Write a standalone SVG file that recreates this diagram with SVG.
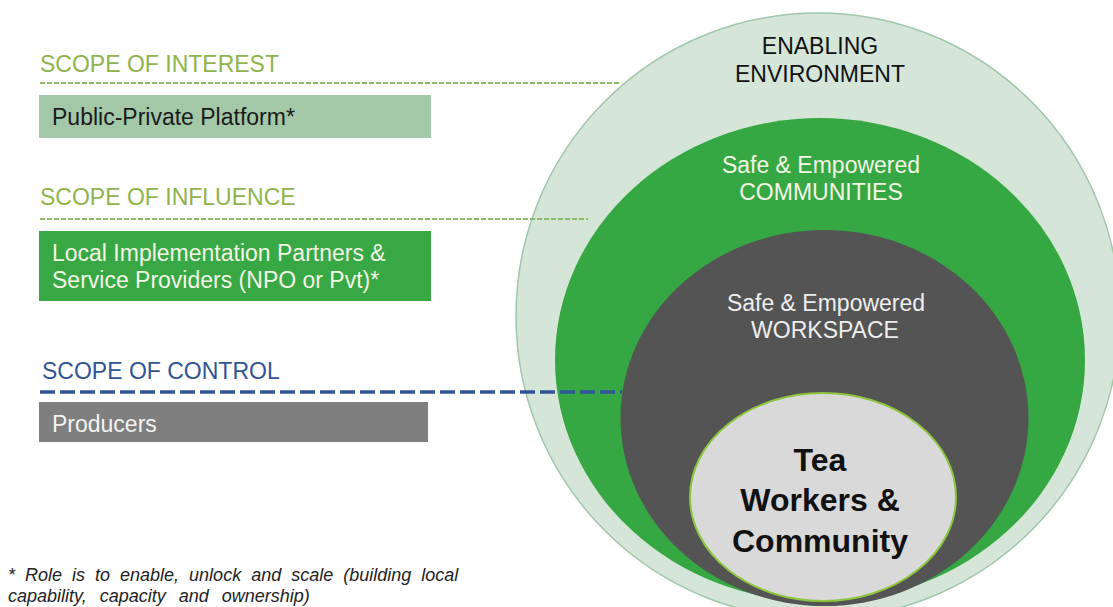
<svg xmlns="http://www.w3.org/2000/svg" width="1113" height="607" viewBox="0 0 1113 607">
<style>
text{font-family:"Liberation Sans",Arial,sans-serif;}
.hdr{font-size:23px;}
.green-hdr{fill:#8fb34c;}
.blue-hdr{fill:#2f5597;}
.box-t{font-size:23px;}
.ring{font-size:23px;text-anchor:middle;}
.core{font-size:32px;font-weight:bold;text-anchor:middle;fill:#111;}
.note{font-size:18px;font-style:italic;fill:#222;}
.gdash{stroke:#8dbd63;stroke-width:2;stroke-dasharray:5 2;fill:none;}
.bdash{stroke:#2f5597;stroke-width:3.5;stroke-dasharray:15 5;fill:none;}
</style>
<rect width="1113" height="607" fill="#ffffff"/>
<g id="enabling-environment">
<ellipse cx="818" cy="316" rx="302" ry="303" fill="#d5e6d9" stroke="#9fc7a9" stroke-width="1.5"/>
<text class="ring" x="820" y="54" fill="#111">ENABLING</text>
<text class="ring" x="820" y="82" fill="#111">ENVIRONMENT</text>
</g>
<g id="communities">
<ellipse cx="820" cy="360" rx="265" ry="242" fill="#36a843"/>
<text class="ring" x="821" y="173" fill="#f4f6e6">Safe &amp; Empowered</text>
<text class="ring" x="821" y="200" fill="#f4f6e6">COMMUNITIES</text>
</g>
<g id="workspace">
<ellipse cx="824.5" cy="418" rx="204" ry="188" fill="#545454"/>
<text class="ring" x="826" y="311" fill="#eeeeee">Safe &amp; Empowered</text>
<text class="ring" x="825" y="338" fill="#eeeeee">WORKSPACE</text>
</g>
<g id="tea-workers">
<ellipse cx="823" cy="497" rx="133" ry="104" fill="#d9d9d9" stroke="#8cc63f" stroke-width="2"/>
<text class="core" x="820" y="471">Tea</text>
<text class="core" x="820" y="511">Workers &amp;</text>
<text class="core" x="820" y="552">Community</text>
</g>
<g id="connectors">
<line class="gdash" x1="40" y1="83" x2="620" y2="83"/>
<line class="gdash" x1="40" y1="219" x2="588" y2="219"/>
<line class="bdash" x1="40" y1="392" x2="622" y2="392"/>
</g>
<g id="scope-interest">
<text class="hdr green-hdr" x="40" y="72">SCOPE OF INTEREST</text>
</g>
<g id="public-private">
<rect x="39" y="95" width="392" height="43" fill="#a3c8a8"/>
<text class="box-t" x="52" y="125" fill="#1a1a1a">Public-Private Platform*</text>
</g>
<g id="scope-influence">
<text class="hdr green-hdr" x="40" y="205">SCOPE OF INFLUENCE</text>
</g>
<g id="local-partners">
<rect x="39" y="231" width="392" height="70" fill="#37a843"/>
<text class="box-t" x="52" y="261" fill="#f4f6e6">Local Implementation Partners &amp;</text>
<text class="box-t" x="52" y="288" fill="#f4f6e6">Service Providers (NPO or Pvt)*</text>
</g>
<g id="scope-control">
<text class="hdr blue-hdr" x="42" y="379">SCOPE OF CONTROL</text>
</g>
<g id="producers">
<rect x="39" y="402" width="389" height="40" fill="#7f7f7f"/>
<text class="box-t" x="52" y="432" fill="#f2f2f2">Producers</text>
</g>
<g id="footnote">
<text class="note" x="8" y="581" word-spacing="5">* Role is to enable, unlock and scale (building local</text>
<text class="note" x="8" y="602" word-spacing="8">capability, capacity and ownership)</text>
</g>
</svg>
